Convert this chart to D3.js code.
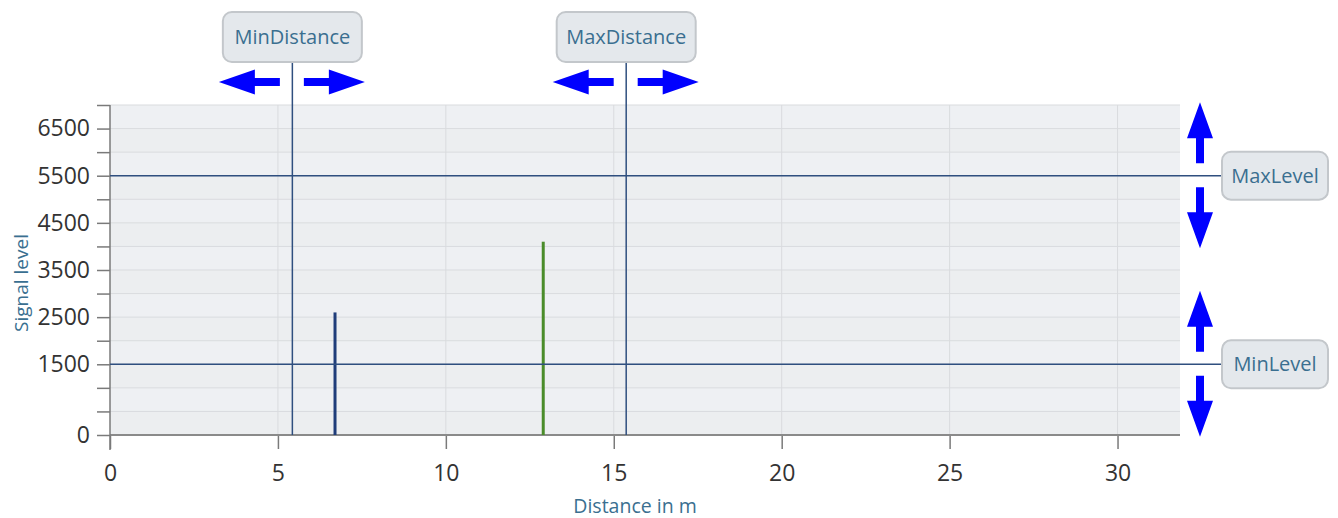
<!DOCTYPE html>
<html><head><meta charset="utf-8">
<script src="https://cdn.jsdelivr.net/npm/d3@7"></script>
<style>html,body{margin:0;padding:0;background:#fff;}svg{display:block;}</style>
</head><body>
<svg id="c" width="1338" height="518"></svg>
<script>
// ---- data ----
const barDistances = [6.7, 12.9];
const barLevels = [2600, 4100];
const barColors = ["#1f3d7a", "#4a8c2a"];
const xTickValues = [0, 5, 10, 15, 20, 25, 30];
const yTickValues = [0,500,1000,1500,2000,2500,3000,3500,4000,4500,5000,5500,6000,6500,7000];
const yTickLabels = ["0","","","1500","","2500","","3500","","4500","","5500","","6500",""];
const distanceNames = ["MinDistance", "MaxDistance"];
const distanceValues = [5.43, 15.37];
const levelNames = ["MaxLevel", "MinLevel"];
const levelValues = [5500, 1500];

const svg = d3.select("#c");
const m = {l:110, r:1180, t:105, b:435};
const x = d3.scaleLinear().domain([0, 31.86]).range([m.l, m.r]);
const y = d3.scaleLinear().domain([0, 7000]).range([m.b, m.t]);
const font = "'Open Sans', 'Noto Sans', sans-serif";
const lineCol = "#2f4f7f";
const labelTextCol = "#3a6f90";

// background bands
const bands = d3.range(0, 7000, 500);
svg.append("g").selectAll("rect").data(bands).join("rect")
  .attr("x", m.l).attr("width", m.r - m.l)
  .attr("y", d => y(d + 500)).attr("height", d => y(d) - y(d + 500))
  .attr("fill", (d, i) => i % 2 ? "#eef0f3" : "#eceef0");

// grid
svg.append("g").selectAll("line").data(yTickValues.filter(v => v > 0)).join("line")
  .attr("x1", m.l).attr("x2", m.r).attr("y1", d => y(d)).attr("y2", d => y(d))
  .attr("stroke", "#d9dbde").attr("stroke-width", 1);
svg.append("g").selectAll("line").data(xTickValues.filter(v => v > 0)).join("line")
  .attr("y1", m.t).attr("y2", m.b).attr("x1", d => x(d)).attr("x2", d => x(d))
  .attr("stroke", "#d9dbde").attr("stroke-width", 1);

// axes
const xAxis = d3.axisBottom(x).tickValues(xTickValues).tickSize(14).tickPadding(16);
const gx = svg.append("g").attr("transform", `translate(0,${m.b})`).call(xAxis);
gx.select(".domain").remove();
gx.append("line").attr("x1", m.l).attr("x2", m.r).attr("stroke", "#8a8a8a").attr("stroke-width", 2);
gx.selectAll(".tick line").attr("stroke", "#7a7a7a").attr("stroke-width", 1.5);
gx.selectAll(".tick text").attr("fill", "#333").style("font", `23px ${font}`);

const yAxis = d3.axisLeft(y).tickValues(yTickValues).tickFormat((d, i) => yTickLabels[i]).tickSize(13).tickPadding(7);
const gy = svg.append("g").attr("transform", `translate(${m.l},0)`).call(yAxis);
gy.select(".domain").remove();
gy.append("line").attr("y1", m.t).attr("y2", m.b + 15).attr("stroke", "#7a7a7a").attr("stroke-width", 1.5);
gy.selectAll(".tick line").attr("stroke", "#7a7a7a").attr("stroke-width", 1.5);
gy.selectAll(".tick text").attr("fill", "#333").style("font", `23px ${font}`);

// axis titles
svg.append("text").attr("x", 635).attr("y", 513).attr("text-anchor", "middle")
  .attr("fill", labelTextCol).style("font", `19.5px ${font}`).text("Distance in m");
svg.append("text").attr("transform", `translate(28,283) rotate(-90)`)
  .attr("text-anchor", "middle").attr("fill", labelTextCol).style("font", `19px ${font}`).text("Signal level");

// bars
svg.append("g").selectAll("line").data(barDistances).join("line")
  .attr("x1", d => x(d)).attr("x2", d => x(d))
  .attr("y1", y(0)).attr("y2", (d, i) => y(barLevels[i]))
  .attr("stroke", (d, i) => barColors[i]).attr("stroke-width", 3);

// threshold lines
const boxTop = 12, boxH = 50;
svg.append("g").selectAll("line").data(distanceValues).join("line")
  .attr("x1", d => x(d)).attr("x2", d => x(d)).attr("y1", boxTop + boxH).attr("y2", m.b)
  .attr("stroke", lineCol).attr("stroke-width", 1.5);
const boxLeft = 1222;
svg.append("g").selectAll("line").data(levelValues).join("line")
  .attr("y1", d => y(d)).attr("y2", d => y(d)).attr("x1", m.l).attr("x2", boxLeft)
  .attr("stroke", lineCol).attr("stroke-width", 1.5);

// labels
function label(cx, cy, w, h, txt) {
  const g = svg.append("g");
  g.append("rect").attr("x", cx - w / 2).attr("y", cy - h / 2).attr("width", w).attr("height", h)
    .attr("rx", 9).attr("fill", "#e4e8ec").attr("stroke", "#c3c7cb").attr("stroke-width", 2);
  g.append("text").attr("x", cx).attr("y", cy + 7).attr("text-anchor", "middle")
    .attr("fill", labelTextCol).style("font", `20px ${font}`).text(txt);
}
distanceValues.forEach((v, i) => label(x(v), boxTop + boxH / 2, 139, boxH, distanceNames[i]));
levelValues.forEach((v, i) => label(boxLeft + 53, y(v), 106, 48, levelNames[i]));

// arrows
const blue = "#0000ff";
function hArrow(x0, x1, cy) { // tip at x1
  const dir = Math.sign(x1 - x0), head = 36;
  const hb = x1 - dir * head;
  return `M${x0},${cy - 4}L${hb},${cy - 4}L${hb},${cy - 12.5}L${x1},${cy}L${hb},${cy + 12.5}L${hb},${cy + 4}L${x0},${cy + 4}Z`;
}
function vArrow(y0, y1, cx) {
  const dir = Math.sign(y1 - y0), head = 36;
  const hb = y1 - dir * head;
  return `M${cx - 4},${y0}L${cx - 4},${hb}L${cx - 13},${hb}L${cx},${y1}L${cx + 13},${hb}L${cx + 4},${hb}L${cx + 4},${y0}Z`;
}
const ag = svg.append("g").attr("fill", blue);
distanceValues.forEach(v => {
  const cx = x(v);
  ag.append("path").attr("d", hArrow(cx - 12.5, cx - 73.5, 82));
  ag.append("path").attr("d", hArrow(cx + 11.5, cx + 72.5, 82));
});
levelValues.forEach(v => {
  const cy = y(v);
  ag.append("path").attr("d", vArrow(cy - 12.5, cy - 73.5, 1200));
  ag.append("path").attr("d", vArrow(cy + 11.5, cy + 72.5, 1200));
});
</script>
</body></html>
